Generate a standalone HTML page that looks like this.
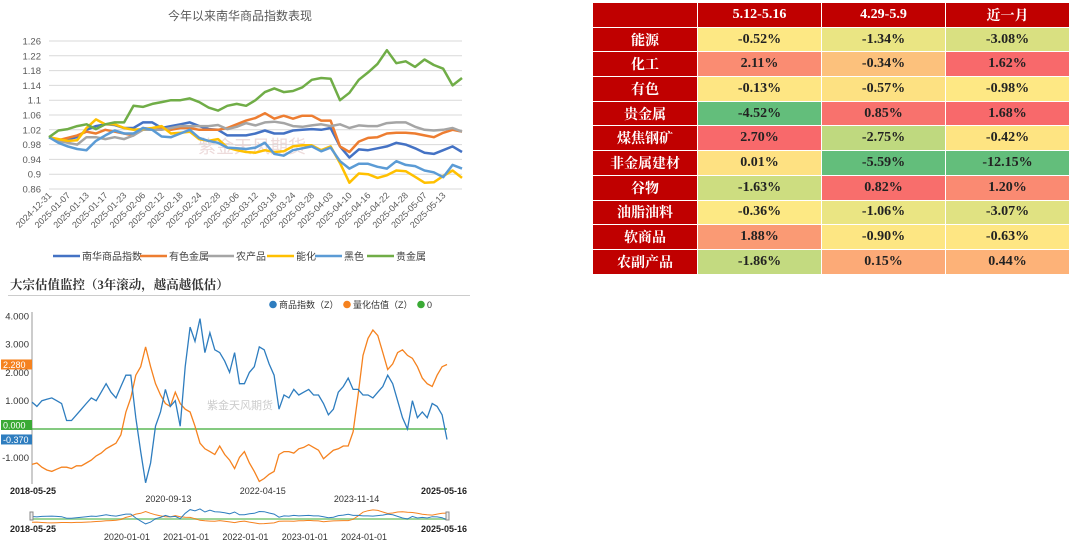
<!DOCTYPE html>
<html><head><meta charset="utf-8">
<style>
body{margin:0;width:1080px;height:544px;background:#fff;position:relative;overflow:hidden;font-family:"Liberation Sans","Noto Sans CJK SC",sans-serif;}
svg{position:absolute;}
#tbl{position:absolute;left:592px;top:2px;border-collapse:collapse;font-family:"Liberation Serif","Noto Serif CJK SC",serif;font-weight:bold;font-size:14px;}
#tbl td{height:23.7px;padding:0;text-align:center;border:1px solid #fff;color:#222;}
#tbl td.h{background:#c00000;color:#fff;}
</style></head><body>

<svg id="top" width="480" height="270" style="left:0;top:0"></svg>

<table id="tbl">
<colgroup><col style="width:105px"><col style="width:124px"><col style="width:124px"><col style="width:124px"></colgroup>
<tbody id="tb"></tbody></table>

<svg id="bot" width="480" height="269" style="left:0;top:275px"></svg>

<script>
// ===== Top chart data =====
const dateLabels=["2024-12-31","2025-01-07","2025-01-13","2025-01-17","2025-01-23","2025-02-06","2025-02-12","2025-02-18","2025-02-24","2025-02-28","2025-03-06","2025-03-12","2025-03-18","2025-03-24","2025-03-28","2025-04-03","2025-04-10","2025-04-16","2025-04-22","2025-04-28","2025-05-07","2025-05-13"];
const yTicks=[0.86,0.9,0.94,0.98,1.02,1.06,1.1,1.14,1.18,1.22,1.26];
const yTickLabels=["0.86","0.9","0.94","0.98","1.02","1.06","1.1","1.14","1.18","1.22","1.26"];
const seriesNames=["南华商品指数","有色金属","农产品","能化","黑色","贵金属"];
const nanhua=[1.0,0.99,0.995,1.0,1.02,1.03,1.035,1.033,1.025,1.025,1.04,1.04,1.025,1.03,1.035,1.04,1.03,1.022,1.02,1.005,1.005,1.005,1.01,1.018,1.01,1.01,1.018,1.02,1.022,1.02,1.025,0.975,0.945,0.967,0.965,0.97,0.975,0.985,0.98,0.97,0.958,0.955,0.965,0.975,0.96];
const nonferrous=[1.0,0.992,0.998,1.005,1.015,1.01,1.02,1.015,1.01,1.005,1.025,1.022,1.025,1.02,1.025,1.025,1.02,1.02,1.02,1.025,1.035,1.045,1.052,1.065,1.05,1.058,1.05,1.058,1.058,1.045,1.045,0.975,0.96,0.988,0.998,1.0,1.01,1.012,1.012,1.01,1.005,1.0,1.012,1.02,1.015];
const agri=[1.0,0.99,0.985,0.98,1.0,1.0,0.995,1.0,0.995,1.005,1.02,1.02,1.02,1.025,1.03,1.03,1.03,1.03,1.033,1.022,1.028,1.038,1.032,1.04,1.042,1.038,1.03,1.028,1.032,1.035,1.03,1.035,1.025,1.032,1.03,1.03,1.038,1.04,1.04,1.028,1.02,1.018,1.02,1.025,1.015];
const energy=[1.0,0.995,0.99,0.992,1.025,1.048,1.035,1.035,1.025,1.02,1.022,1.025,1.03,1.01,1.012,1.015,0.995,0.99,0.995,0.972,0.965,0.96,0.958,0.965,0.96,0.962,0.975,0.978,0.978,0.965,0.975,0.93,0.877,0.902,0.9,0.89,0.897,0.91,0.908,0.893,0.877,0.878,0.895,0.91,0.89];
const ferrous=[1.0,0.985,0.975,0.968,0.965,0.99,1.005,1.018,1.01,1.01,1.025,1.02,1.002,1.0,1.01,1.02,0.998,0.99,0.985,0.972,0.97,0.968,0.972,0.985,0.955,0.95,0.965,0.97,0.975,0.962,0.972,0.935,0.915,0.928,0.928,0.92,0.915,0.935,0.925,0.922,0.91,0.905,0.892,0.925,0.915];
const precious=[1.0,1.018,1.022,1.03,1.035,1.022,1.035,1.04,1.04,1.085,1.082,1.09,1.095,1.1,1.1,1.105,1.095,1.08,1.072,1.085,1.09,1.085,1.1,1.122,1.132,1.122,1.125,1.135,1.155,1.16,1.158,1.1,1.12,1.155,1.175,1.198,1.235,1.2,1.205,1.19,1.21,1.195,1.185,1.14,1.16];
const seriesColors=["#4472c4","#ed7d31","#a5a5a5","#ffc000","#5b9bd5","#70ad47"];

// ===== Table data =====
const rowNames=["能源","化工","有色","贵金属","煤焦钢矿","非金属建材","谷物","油脂油料","软商品","农副产品"];
const colNames=["5.12-5.16","4.29-5.9","近一月"];
const tableVals=[["-0.52%","-1.34%","-3.08%"],["2.11%","-0.34%","1.62%"],["-0.13%","-0.57%","-0.98%"],["-4.52%","0.85%","1.68%"],["2.70%","-2.75%","-0.42%"],["0.01%","-5.59%","-12.15%"],["-1.63%","0.82%","1.20%"],["-0.36%","-1.06%","-3.07%"],["1.88%","-0.90%","-0.63%"],["-1.86%","0.15%","0.44%"]];
const tableColors=[["#fde884","#eae583","#d9e081"],["#fa8c72","#fcc17c","#f8696b"],["#fee683","#fde182","#fee884"],["#63be7b","#f8726d","#f8696b"],["#f8696b","#bfd97f","#fee482"],["#fee182","#63be7b","#63be7b"],["#cddd80","#f86e6c","#fa8a72"],["#fde984","#eae583","#e0e282"],["#fa9a74","#fde683","#fee683"],["#c3da80","#fcaa77","#fdb278"]];

// ===== Bottom chart data (monthly 2018-05 .. 2025-05) =====
const zIndex=[0.95,0.8,1.0,1.05,1.1,1.0,0.9,0.3, 0.3,0.5,0.7,0.9,1.1,1.0,1.3,1.6,1.3,1.1,1.5,1.9, 1.9,0.4,-0.8,-1.9,-1.2,0.1,0.6,1.4,0.8,1.0,0.1,2.2, 3.6,3.1,3.9,2.7,3.4,2.8,2.7,2.4,2.0,2.7,1.6,1.6, 2.0,2.2,2.9,2.8,2.3,1.9,0.7,1.2,1.1,1.4,1.2,1.3, 1.4,1.2,1.2,0.9,0.5,0.7,1.3,1.5,1.8,1.4,1.4,1.2, 1.2,1.1,1.3,1.5,1.9,1.6,1.0,0.4,0.0,1.0,0.4,0.6, 0.4,0.9,0.8,0.5,-0.37];
const zValuation=[-1.25,-1.2,-1.35,-1.45,-1.5,-1.42,-1.35,-1.35, -1.4,-1.3,-1.3,-1.2,-1.1,-0.95,-0.85,-0.7,-0.6,-0.5,-0.2,0.6, 1.1,1.9,2.2,2.9,2.2,1.6,1.2,0.9,0.8,1.3,0.9,0.7, 0.6,0.1,-0.5,-0.7,-0.8,-0.9,-0.6,-0.9,-1.1,-1.4,-1.0,-0.8, -1.2,-1.5,-1.85,-1.75,-1.6,-1.5,-0.9,-0.8,-0.8,-0.85,-0.7,-0.65, -0.55,-0.65,-0.75,-1.05,-0.9,-0.75,-0.7,-0.6,-0.6,-0.1,1.2,2.6, 3.2,3.5,3.3,2.7,2.1,2.3,2.7,2.8,2.6,2.5,2.2,1.8, 1.6,1.5,1.9,2.2,2.28];
const bYTicks=[-1,0,1,2,3,4];
const bYTickLabels=["-1.000","","1.000","2.000","3.000","4.000"];
const bDateLabels=["2020-09-13","2022-04-15","2023-11-14"];
const bDateIdx=[27.6,46.7,65.7];
const miniLabels=["2020-01-01","2021-01-01","2022-01-01","2023-01-01","2024-01-01"];
const miniIdx=[19.2,31.2,43.2,55.2,67.2];

const NS="http://www.w3.org/2000/svg";
function mk(p,tag,at,txt){const e=document.createElementNS(NS,tag);for(const k in at)e.setAttribute(k,at[k]);if(txt!=null)e.textContent=txt;p.appendChild(e);return e;}

// ---- top chart ----
(function(){
const s=document.getElementById('top');
const x0=49,x1=462,yTop=41,yBot=189,vMin=0.86,vMax=1.26,N=nanhua.length;
const X=i=>x0+i*(x1-x0)/(N-1);
const Y=v=>yBot-(v-vMin)/(vMax-vMin)*(yBot-yTop);
let t=mk(s,'text',{x:240,y:20,'text-anchor':'middle','font-size':12,fill:'#595959'},'今年以来南华商品指数表现');


yTicks.forEach((v,k)=>{
 const g=mk(s,'line',{x1:x0,x2:x1,y1:Y(v),y2:Y(v),stroke:'#d9d9d9','stroke-width':1});
 
 
 const l=mk(s,'text',{x:41,y:Y(v)+3.5,'text-anchor':'end','font-size':9.5,fill:'#595959'},yTickLabels[k]);
 
 
});
dateLabels.forEach((d,k)=>{
 const xx=X(k*2);
 const l=mk(s,'text',{x:xx+3,y:196,'text-anchor':'end','font-size':9,fill:'#595959',transform:`rotate(-45 ${xx+3} 196)`},d);
 
 
});
const wm=mk(s,'text',{x:198,y:153,'font-size':18,fill:'#e6cccc',opacity:0.7},'紫金天风期货');


[nanhua,nonferrous,agri,energy,ferrous,precious].forEach((arr,si)=>{
 const p=mk(s,'polyline',{points:arr.map((v,i)=>X(i).toFixed(1)+','+Y(v).toFixed(1)).join(' '),fill:'none',stroke:seriesColors[si],'stroke-width':2.5,'stroke-linejoin':'round'});
 
 
});
const lx=[53,140,207,267,315,367];
seriesNames.forEach((n,i)=>{
 const g=mk(s,'g',{});
 
 
 mk(g,'line',{x1:lx[i],x2:lx[i]+27,y1:256,y2:256,stroke:seriesColors[i],'stroke-width':2.5});
 mk(g,'text',{x:lx[i]+29,y:260,'font-size':10,fill:'#404040'},n);
});
})();

// ---- table ----
(function(){
const tb=document.getElementById('tb');
let tr=document.createElement('tr');
let c=document.createElement('td');c.className='h';tr.appendChild(c);
colNames.forEach(n=>{const td=document.createElement('td');td.className='h';td.textContent=n;
 
 
 tr.appendChild(td);});
tr.firstChild.style.height='22px';
tb.appendChild(tr);
rowNames.forEach((r,i)=>{
 const tr=document.createElement('tr');
 const th=document.createElement('td');th.className='h';th.textContent=r;
 
 
 tr.appendChild(th);
 tableVals[i].forEach((v,j)=>{const td=document.createElement('td');td.textContent=v;td.style.background=tableColors[i][j];
  
  
  tr.appendChild(td);});
 tb.appendChild(tr);
});
})();

// ---- bottom chart ----
(function(){
const s=document.getElementById('bot');
const x0=32,x1=447,N=zIndex.length;
const X=i=>x0+i*(x1-x0)/(N-1);
const Y=v=>154-v*28.3;
let t=mk(s,'text',{x:10,y:14,'font-size':12.5,'font-weight':'bold',fill:'#333','font-family':'"Liberation Serif","Noto Serif CJK SC",serif'},'大宗估值监控（3年滚动，越高越低估）');


mk(s,'line',{x1:8,x2:470,y1:20.5,y2:20.5,stroke:'#ccc'});
const leg=[["#2e7dbf","商品指数（Z）",273],["#f5821f","量化估值（Z）",347],["#3aaa35","0",421]];
leg.forEach(l=>{const g=mk(s,'g',{});
 
 
 mk(g,'circle',{cx:l[2],cy:29.5,r:3.8,fill:l[0]});mk(g,'text',{x:l[2]+6,y:33,'font-size':9,fill:'#333'},l[1]);});
mk(s,'line',{x1:x0,x2:x0,y1:37,y2:209,stroke:'#999'});
bYTicks.forEach((v,k)=>{if(!bYTickLabels[k])return;
 const l=mk(s,'text',{x:29,y:Y(v)+3.5,'text-anchor':'end','font-size':9.5,fill:'#333'},bYTickLabels[k]);
 
 
});
const wm=mk(s,'text',{x:207,y:134,'font-size':11,fill:'#ccc'},'紫金天风期货');


const z=mk(s,'line',{x1:x0,x2:x1,y1:Y(0),y2:Y(0),stroke:'#3aaa35','stroke-width':1.2});


const po=mk(s,'polyline',{points:zValuation.map((v,i)=>X(i).toFixed(1)+','+Y(v).toFixed(1)).join(' '),fill:'none',stroke:'#f5821f','stroke-width':1.3});


const pb=mk(s,'polyline',{points:zIndex.map((v,i)=>X(i).toFixed(1)+','+Y(v).toFixed(1)).join(' '),fill:'none',stroke:'#2e7dbf','stroke-width':1.3});


// value tags
const tags=[["#f5821f",zValuation[N-1]],["#3aaa35",0],["#2e7dbf",zIndex[N-1]]];
tags.forEach((tg,k)=>{const g=mk(s,'g',{});
 
 
 let yy=Y(tg[1]);if(k==2)yy=Math.max(yy,Y(0)+9);if(k==1)yy=yy-4;
 mk(g,'rect',{x:1,y:yy-5,width:31,height:10,fill:tg[0]});
 mk(g,'text',{x:3,y:yy+3.5,'font-size':9,fill:'#fff'},tg[1].toFixed(3));});
// date labels
const d1=mk(s,'text',{x:10,y:219,'font-size':9,'font-weight':'bold',fill:'#222'},'2018-05-25');

const d2=mk(s,'text',{x:467,y:219,'text-anchor':'end','font-size':9,'font-weight':'bold',fill:'#222'},'2025-05-16');

bDateLabels.forEach((d,k)=>{const l=mk(s,'text',{x:X(bDateIdx[k]),y:k==1?219:227,'text-anchor':'middle','font-size':9,fill:'#333'},d);
 
 });
// mini slider
const mY=v=>244-v*2.6;
const mg=mk(s,'g',{});


mk(mg,'line',{x1:x0,x2:x1,y1:mY(0),y2:mY(0),stroke:'#9fd69a','stroke-width':2});
mk(mg,'polyline',{points:zValuation.map((v,i)=>X(i).toFixed(1)+','+mY(v).toFixed(1)).join(' '),fill:'none',stroke:'#f5821f','stroke-width':1});
mk(mg,'polyline',{points:zIndex.map((v,i)=>X(i).toFixed(1)+','+mY(v).toFixed(1)).join(' '),fill:'none',stroke:'#2e7dbf','stroke-width':1});
mk(mg,'rect',{x:30,y:237,width:3,height:8,fill:'#eee',stroke:'#888'});
mk(mg,'rect',{x:446,y:237,width:3,height:8,fill:'#eee',stroke:'#888'});
const m1=mk(s,'text',{x:10,y:257,'font-size':9,'font-weight':'bold',fill:'#222'},'2018-05-25');

const m2=mk(s,'text',{x:467,y:257,'text-anchor':'end','font-size':9,'font-weight':'bold',fill:'#222'},'2025-05-16');

miniLabels.forEach((d,k)=>{const l=mk(s,'text',{x:X(miniIdx[k]),y:265,'text-anchor':'middle','font-size':9,fill:'#333'},d);
 
 });
})();
</script>
</body></html>
